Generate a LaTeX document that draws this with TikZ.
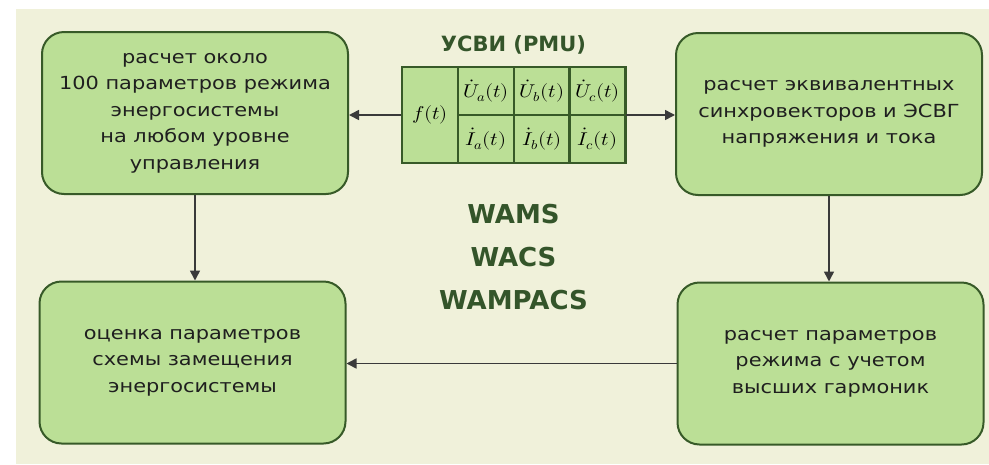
\documentclass[tikz,border=0pt]{standalone}
\usepackage{graphicx}
\usepackage{fontspec}
\usepackage{unicode-math}
\setmathfont{Latin Modern Math}
\setmainfont[FakeStretch=1.16]{DejaVu Sans}
\newfontfamily\headfont{DejaVu Sans}
\usetikzlibrary{arrows.meta}
\definecolor{paper}{HTML}{F0F1DA}
\definecolor{boxfill}{HTML}{BBDF96}
\definecolor{boxline}{HTML}{375A28}
\definecolor{headgreen}{HTML}{34552A}
\definecolor{wire}{HTML}{3A3A3A}
% widened math for the measurement cells
\newcommand\cellmath[1]{\scalebox{1.12}[1]{$#1$}}
\tikzset{
  stage/.style={draw=boxline, line width=2pt, fill=boxfill, rounded corners=22pt,
    minimum width=306pt, minimum height=162pt, inner sep=0pt, align=center,
    text=black!88, font=\fontsize{18}{26.5}\selectfont},
  cell/.style={draw=boxline, line width=2.4pt, fill=boxfill, inner sep=0pt,
    minimum width=56pt, minimum height=48pt, font=\fontsize{18.5}{20}\selectfont},
  flow/.style={draw=wire, line width=1.6pt, -{Triangle[length=10pt,width=10pt]}},
  heading/.style={text=headgreen, font=\headfont\bfseries\fontsize{21}{23}\selectfont},
  acronym/.style={text=headgreen, font=\headfont\bfseries\fontsize{26}{28}\selectfont}
}
\begin{document}
\begin{tikzpicture}[x=1pt,y=-1pt]
\useasboundingbox (0,0) rectangle (989,464);
\fill[white] (0,0) rectangle (989,464);
\fill[paper] (16,9) rectangle (989,464);

% four processing stages
\node[stage] (tl) at (195,113) {расчет около\\100 параметров режима\\энергосистемы\\на любом уровне\\управления};
\node[stage] (tr) at (829,114) {расчет эквивалентных\\синхровекторов и ЭСВГ\\напряжения и тока};
\node[stage] (bl) at (192.5,362.5) {оценка параметров\\схемы замещения\\энергосистемы};
\node[stage] (br) at (830.5,363.5) {расчет параметров\\режима с учетом\\высших гармоник};

% PMU measurement table
\node[heading] (pmutitle) at (513.5,45) {УСВИ (PMU)};
\node[draw=boxline, line width=2.4pt, fill=boxfill, minimum width=223pt, minimum height=96pt, inner sep=0pt] (pmu) at (513.5,115) {};
\node[cell, minimum height=96pt] (f) at (430,115) {\cellmath{f(t)}};
\node[cell] (ua) at (486,91) {\cellmath{\dot U_a(t)}};
\node[cell] (ub) at (542,91) {\cellmath{\dot U_b(t)}};
\node[cell] (uc) at (597.5,91) {\cellmath{\dot U_c(t)}};
\node[cell] (ia) at (486,139) {\cellmath{\dot I_a(t)}};
\node[cell] (ib) at (542,139) {\cellmath{\dot I_b(t)}};
\node[cell] (ic) at (597.5,139) {\cellmath{\dot I_c(t)}};

% system names
\node[acronym] (wams) at (513.5,214) {WAMS};
\node[acronym] (wacs) at (513.5,257) {WACS};
\node[acronym] (wampacs) at (513.5,300) {WAMPACS};

% data flow
\draw[flow] (pmu.west) -- (pmu.west -| tl.east);
\draw[flow] (pmu.east) -- (pmu.east -| tr.west);
\draw[flow] (tl.south) -- (tl.south |- bl.north);
\draw[flow] (tr.south) -- (tr.south |- br.north);
\draw[flow] (br.west) -- (br.west -| bl.east);
\end{tikzpicture}
\end{document}
